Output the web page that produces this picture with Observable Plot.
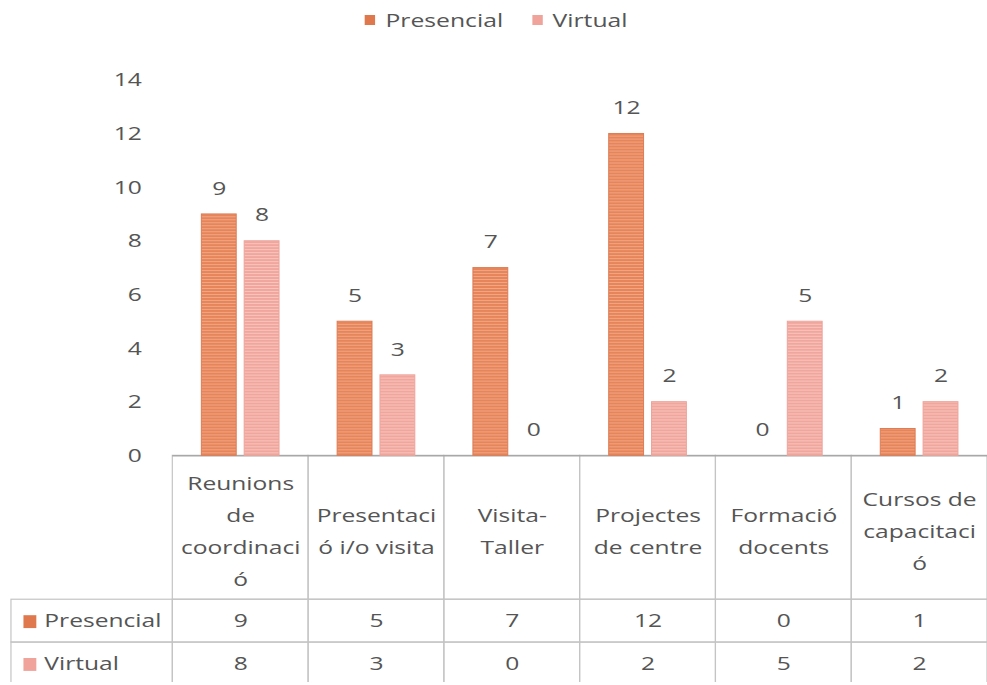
<!DOCTYPE html>
<html>
<head>
<meta charset="utf-8">
<script src="https://cdn.jsdelivr.net/npm/d3@7"></script>
<script src="https://cdn.jsdelivr.net/npm/@observablehq/plot@0.6"></script>
<style>
  html, body { margin: 0; padding: 0; background: #fff; overflow: hidden; }
  #legend {
    height: 40px; display: flex; justify-content: center; align-items: center;
    font-family: "Open Sans", sans-serif; font-size: 19px; color: #555;
    padding-left: 6px; box-sizing: border-box;
  }
  #legend .inner { display: flex; align-items: center; gap: 22px; transform: scaleX(1.3); }
  #legend .item { display: flex; align-items: center; gap: 8px; }
  #legend .sw { width: 8px; height: 10px; display: inline-block; }
</style>
</head>
<body>
<div id="legend"></div>
<div id="chart"></div>
<script>
// Activitats per modalitat
const categories = [
  "Reunions de coordinació",
  "Presentació i/o visita",
  "Visita-Taller",
  "Projectes de centre",
  "Formació docents",
  "Cursos de capacitació"
];
const categoryLabels = [
  "Reunions\nde\ncoordinaci\nó",
  "Presentaci\nó i/o visita",
  "Visita-\nTaller",
  "Projectes\nde centre",
  "Formació\ndocents",
  "Cursos de\ncapacitaci\nó"
];
const series = ["Presencial", "Virtual"];
const presencial = [9, 5, 7, 12, 0, 1];
const virtual = [8, 3, 0, 2, 5, 2];
const yTicks = [0, 2, 4, 6, 8, 10, 12, 14];

// styling
const seriesColor = {Presencial: "#E0784E", Virtual: "#EFA39B"};
const textColor = "#555555";
const gridColor = "#C4C4C4";
const font = "Open Sans";
const fontSize = 19;
const stretch = 1.3;

// layout
const W = 991, H = 645;
const mLeft = 173, mTop = 40, mBottom = 228;
const frameH = H - mTop - mBottom;
const step = (W - mLeft) / categories.length;
const barW = 35, barOffset = 21.5;
const barInset = (step - barW) / 2;
const headerH = 144.5, rowH = 43;
const tableLeft = 11;

const rows = categories.map((category, i) => ({
  category,
  label: categoryLabels[i],
  Presencial: presencial[i],
  Virtual: virtual[i]
}));

// legend
const legend = d3.select("#legend").append("div").attr("class", "inner");
series.forEach(s => {
  const it = legend.append("div").attr("class", "item");
  it.append("span").attr("class", "sw").style("background", seriesColor[s]);
  it.append("span").text(s);
});

// table cells: header row and one row per series
const cellRow = (top, height) => ({
  fill: "none", stroke: gridColor, strokeWidth: 1.2,
  insetTop: frameH + top, insetBottom: -(top + height)
});
const rowMiddle = k => headerH + k * rowH + rowH / 2;

const marks = [
  Plot.cell(rows, {x: "category", ...cellRow(0, headerH)}),
  ...series.map((s, k) => Plot.cell(rows, {x: "category", ...cellRow(headerH + k * rowH, rowH)})),
  ...series.map((s, k) => Plot.cell([rows[0]], {
    x: "category", ...cellRow(headerH + k * rowH, rowH),
    insetLeft: -(mLeft - tableLeft), insetRight: step
  })),
  Plot.ruleY([0], {stroke: "#A8A8A8", strokeWidth: 1.5}),
  // grouped bars
  ...series.map((s, k) => Plot.barY(rows, {
    filter: d => d[s] > 0,
    x: "category", y: s,
    dx: k === 0 ? -barOffset : barOffset,
    insetLeft: barInset, insetRight: barInset,
    fill: `url(#stripes-${k})`,
    stroke: k === 0 ? "#DC7C54" : "#EDA39A", strokeWidth: 1
  })),
  // value labels above bars
  ...series.map((s, k) => Plot.text(rows, {
    x: "category", y: s, text: d => String(d[s]),
    dx: k === 0 ? -barOffset : barOffset, dy: -26,
    fill: textColor, fontSize
  })),
  // category header labels
  Plot.text(rows, {
    x: "category", text: "label", frameAnchor: "bottom", dy: 72,
    lineAnchor: "middle", lineHeight: 1.7, fill: textColor, fontSize
  }),
  // table values
  ...series.map((s, k) => Plot.text(rows, {
    x: "category", text: d => String(d[s]), frameAnchor: "bottom",
    lineAnchor: "middle", dy: rowMiddle(k), fill: textColor, fontSize
  })),
  // row headers
  ...series.map((s, k) => Plot.text([s], {
    x: () => categories[0], text: d => d, frameAnchor: "bottom",
    lineAnchor: "middle", dy: rowMiddle(k),
    dx: -(mLeft + step / 2 - 44), textAnchor: "start",
    fill: textColor, fontSize
  })),
  ...series.map((s, k) => Plot.dot([s], {
    x: () => categories[0], frameAnchor: "bottom",
    dy: rowMiddle(k) + 0.5,
    dx: -(mLeft + step / 2 - 29.5),
    symbol: "square", r: 7.3, fill: seriesColor[s], stroke: "none"
  }))
];

const svg = Plot.plot({
  width: W, height: H,
  marginLeft: mLeft, marginRight: 0, marginTop: mTop, marginBottom: mBottom,
  style: {fontFamily: font, fontSize: fontSize + "px", color: textColor, background: "#fff", overflow: "visible"},
  x: {domain: categories, padding: 0, axis: null, round: false},
  y: {domain: [0, 14], ticks: yTicks, tickSize: 0, tickPadding: 31, label: null, tickFormat: d => String(d)},
  marks
});

// striped fills for the bars
const defs = d3.select(svg).insert("defs", ":first-child");
[["#E6845A", "#F2A684"], ["#F0A69D", "#F8C4BD"]].forEach(([base, line], k) => {
  const p = defs.append("pattern").attr("id", `stripes-${k}`)
    .attr("patternUnits", "userSpaceOnUse").attr("width", 6).attr("height", 3);
  p.append("rect").attr("width", 6).attr("height", 3).attr("fill", base);
  p.append("rect").attr("width", 6).attr("height", 1).attr("fill", line);
});

// widen the lettering about each label's anchor
svg.querySelectorAll("text").forEach(t => {
  const tr = t.getAttribute("transform");
  if (tr) {
    t.setAttribute("transform", `${tr} scale(${stretch},1)`);
  } else {
    const x = +(t.getAttribute("x") || 0);
    t.setAttribute("transform", `translate(${x},0) scale(${stretch},1) translate(${-x},0)`);
  }
  t.style.fontFamily = font;
});

document.getElementById("chart").appendChild(svg);
</script>
</body>
</html>
